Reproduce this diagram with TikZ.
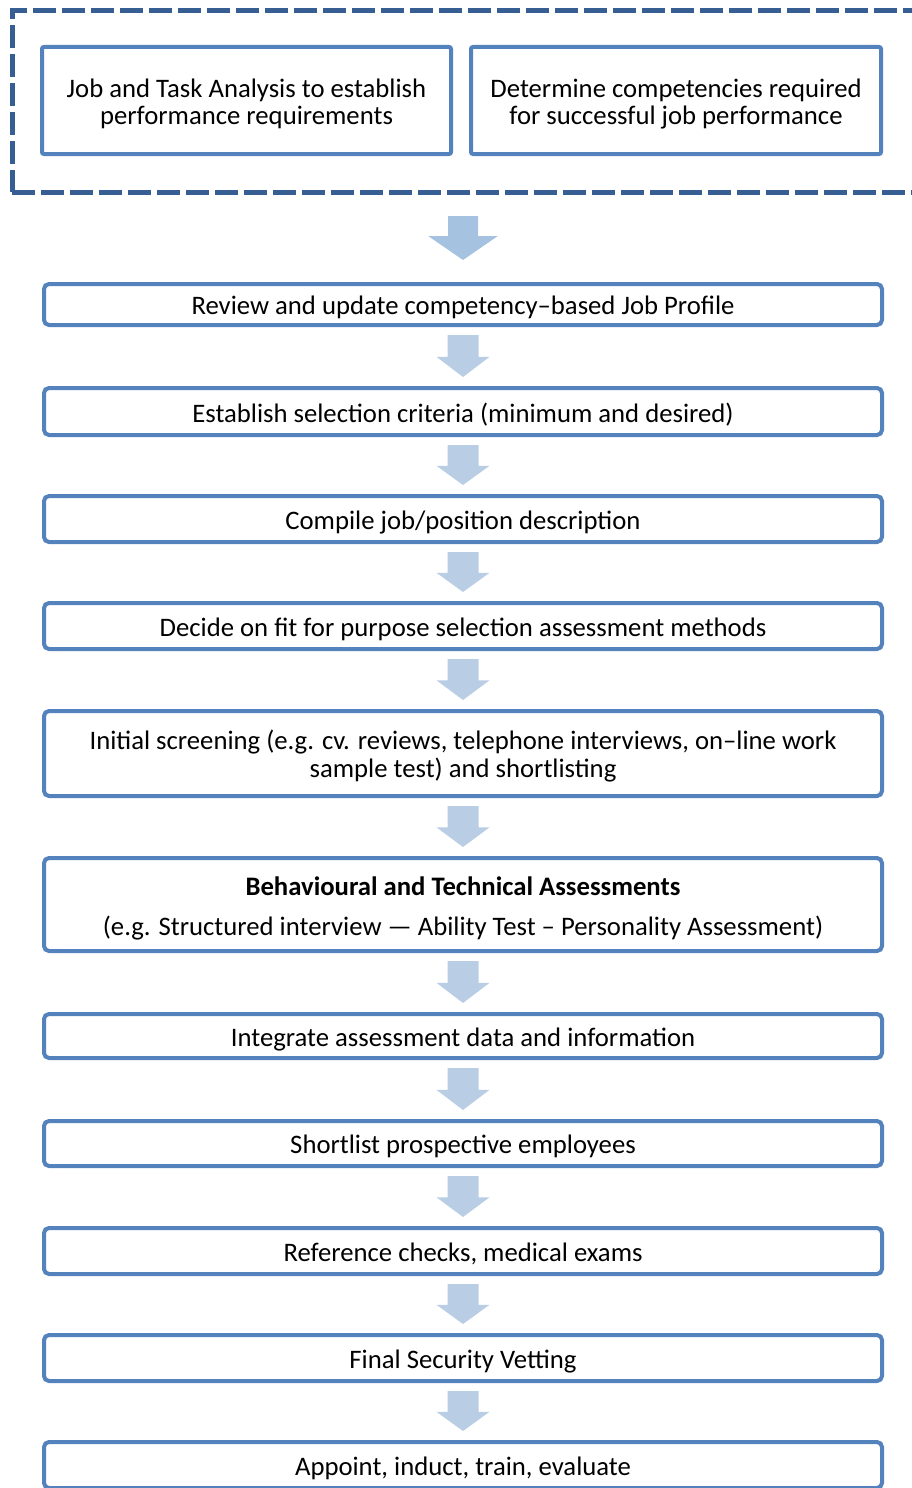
\documentclass[tikz,border=0pt]{standalone}
\usepackage{fontspec}
\setmainfont{Carlito}
\usetikzlibrary{calc}
\definecolor{boxline}{RGB}{84,130,188}
\definecolor{frameline}{RGB}{55,94,146}
\definecolor{arrowA}{RGB}{165,194,224}
\definecolor{arrowB}{RGB}{185,205,229}
\newcommand\boxtxt[2][-5pt]{\raisebox{#1}[\height][\depth]{\begin{tabular}{@{}c@{}}#2\end{tabular}}}
\tikzset{
  flowbox/.style={draw=boxline, line width=4pt, rounded corners=5pt, fill=white,
    minimum width=838pt, inner sep=0pt, font=\fontsize{26.7}{27}\selectfont},
  topbox/.style={draw=boxline, line width=4pt, rounded corners=2pt, fill=white,
    minimum width=409pt, minimum height=107pt, inner sep=0pt, font=\fontsize{26.7}{27}\selectfont},
  framebox/.style={draw=frameline, line width=5pt, dash pattern=on 23pt off 6pt,
    minimum width=903pt, minimum height=181pt, inner sep=0pt},
}
% small block arrow between two flow boxes
\newcommand\flowarrow[2]{%
  \fill[arrowB] let \p1=(#1.south), \p2=(#2.north), \n1={\y1-8pt}, \n2={\y2+9pt}, \n3={0.48*\n1+0.52*\n2} in
    (\x1-15.5pt,\n1) -- (\x1+15.5pt,\n1) -- (\x1+15.5pt,\n3) -- (\x1+26.5pt,\n3)
    -- (\x1,\n2) -- (\x1-26.5pt,\n3) -- (\x1-15.5pt,\n3) -- cycle;}
\begin{document}
\begin{tikzpicture}[x=1pt,y=-1pt]
\useasboundingbox (0,0) rectangle (911,1488);
\node[framebox] (frame) at (463.5,101.5) {};
\node[topbox] (t1) at (246.5,100.5) {\boxtxt{Job and Task Analysis to establish\\performance requirements}};
\node[topbox, minimum width=410pt] (t2) at (676,100.5) {\boxtxt{Determine competencies required\\for successful job performance}};

\node[flowbox, minimum height=41pt] (b1) at (463,304.5) {\boxtxt{Review and update competency–based Job Profile}};
\node[flowbox, minimum height=47pt] (b2) at (463,411.5) {\boxtxt{Establish selection criteria (minimum and desired)}};
\node[flowbox, minimum height=46pt] (b3) at (463,519) {\boxtxt{Compile job/position description}};
\node[flowbox, minimum height=46pt] (b4) at (463,626) {\boxtxt{Decide on fit for purpose selection assessment methods}};
\node[flowbox, minimum height=85pt] (b5) at (463,753.5) {\boxtxt[-4pt]{Initial screening (e.g. cv. reviews, telephone interviews, on–line work\\sample test) and shortlisting}};
\node[flowbox, minimum height=93pt] (b6) at (463,904.5) {\boxtxt[-5.5pt]{\textbf{Behavioural and Technical Assessments}\\[13pt](e.g. Structured interview — Ability Test – Personality Assessment)}};
\node[flowbox, minimum height=44pt] (b7) at (463,1036) {\boxtxt{Integrate assessment data and information}};
\node[flowbox, minimum height=45pt] (b8) at (463,1143.5) {\boxtxt{Shortlist prospective employees}};
\node[flowbox, minimum height=46pt] (b9) at (463,1251) {\boxtxt{Reference checks, medical exams}};
\node[flowbox, minimum height=46pt] (b10) at (463,1358) {\boxtxt{Final Security Vetting}};
\node[flowbox, minimum height=46pt] (b11) at (463,1465) {\boxtxt{Appoint, induct, train, evaluate}};

% big arrow from frame to first box
\fill[arrowA] let \p1=(frame.south), \p2=(b1.north), \n1={\y1-21.5pt}, \n2={\y2+22pt}, \n3={0.54*\n1+0.46*\n2} in
    (463pt-15pt,\n1) -- (463pt+15pt,\n1) -- (463pt+15pt,\n3) -- (463pt+34.5pt,\n3)
    -- (463pt,\n2) -- (463pt-34.5pt,\n3) -- (463pt-15pt,\n3) -- cycle;

\flowarrow{b1}{b2}
\flowarrow{b2}{b3}
\flowarrow{b3}{b4}
\flowarrow{b4}{b5}
\flowarrow{b5}{b6}
\flowarrow{b6}{b7}
\flowarrow{b7}{b8}
\flowarrow{b8}{b9}
\flowarrow{b9}{b10}
\flowarrow{b10}{b11}
\end{tikzpicture}
\end{document}
